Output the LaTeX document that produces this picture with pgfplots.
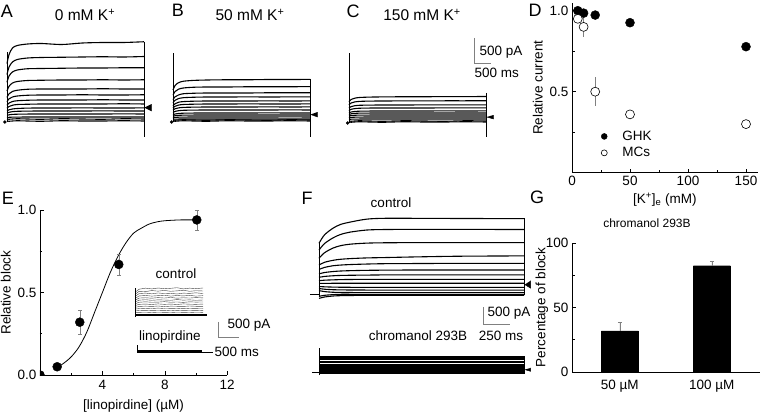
\documentclass[border=0pt]{standalone}
\usepackage{pgfplots}
\pgfplotsset{compat=1.18}
\usepackage{pgfplotstable}
\usepackage{fontspec}
\setmainfont{Liberation Sans}
\newcommand{\fsz}[1]{\fontsize{#1}{#1}\selectfont}

\pgfplotsset{
  trace/.style={hide axis, clip=false, anchor=south west},
  tr/.style={black, line width=1.1pt, no marks, smooth},
  sci/.style={anchor=south west, axis x line*=bottom, axis y line*=left,
    tick align=inside, axis line style={line width=0.6pt},
    every tick/.style={black, line width=0.6pt},
    major tick length=4pt, minor tick length=2.5pt,
    tick label style={font=\fsz{13.5}}, label style={font=\fsz{13.5}},
    /pgf/number format/assume math mode=true},
  ebar/.style={draw=none, no marks, forget plot,
    /pgfplots/error bars/y dir=both, /pgfplots/error bars/y explicit,
    /pgfplots/error bars/error bar style={draw=gray, line width=0.5pt},
    /pgfplots/error bars/error mark options={rotate=90, draw=gray, mark size=2pt}}
}

% panel A, 0 mM K+ (pA)
\pgfplotstableread{
t    c1   c2   c3   c4  c5  c6  c7  c8  c9  c10 c11 c12 c13 c14
0    1110 890  735  560 430 345 275 215 160 115 72  30  0   -40
30   1290 1040 860  655 505 405 320 250 185 135 84  34  -5  -45
80   1420 1140 940  720 550 440 350 275 200 147 92  37  0   -40
150  1470 1190 980  750 575 460 365 290 210 154 96  38  5   -35
300  1500 1220 1005 770 595 475 375 295 218 158 99  40  0   -40
500  1510 1230 1010 775 600 480 380 300 220 160 100 40  -5  -45
800  1490 1235 1015 780 600 480 380 300 220 160 100 40  5   -35
1100 1520 1240 1020 780 600 485 380 300 222 160 100 40  0   -40
1400 1530 1245 1020 785 605 480 385 300 220 162 100 40  -5  -40
1700 1530 1240 1025 780 600 480 380 305 220 160 102 40  5   -35
2000 1545 1250 1025 785 600 485 380 300 222 160 100 40  0   -40
}\tabA

% panel B, 50 mM K+
\pgfplotstableread{
t    c1  c2  c3  c4  c5  c6  c7  c8  c9  c10 c11 c12 c13 c14
0    600 495 405 345 285 240 195 150 105 75  45  15  0   -20
30   690 570 465 395 325 275 225 172 120 86  52  17  -5  -25
80   745 615 500 428 355 298 242 186 130 93  56  19  0   -20
150  775 640 525 446 368 310 252 194 136 97  58  20  5   -15
300  792 655 535 455 376 316 257 198 139 99  60  20  0   -20
500  800 660 540 460 380 320 260 200 140 100 60  20  -5  -25
800  805 660 540 460 380 320 260 200 140 100 60  20  5   -15
1100 805 665 540 462 380 322 260 200 140 100 60  20  0   -20
1400 810 665 545 460 382 320 262 200 142 100 60  20  -5  -20
1700 810 665 545 462 380 320 260 202 140 100 62  20  5   -15
2000 812 668 545 462 382 322 262 200 140 100 60  20  0   -20
}\tabB

% panel C, 150 mM K+
\pgfplotstableread{
t    c1  c2  c3  c4  c5  c6  c7  c8 c9 c10 c11
0    385 320 256 208 160 128 96  64 32 0   -20
30   430 360 288 234 180 144 108 72 36 -5  -25
80   455 380 304 247 190 152 114 76 38 0   -20
150  470 392 314 255 196 157 118 78 39 5   -15
300  478 398 318 259 199 159 119 80 40 0   -20
500  482 400 320 260 200 160 120 80 40 -5  -25
800  485 402 320 260 200 160 120 80 40 5   -15
1100 485 402 322 260 200 160 120 80 40 0   -20
1400 488 404 322 262 202 160 120 80 40 -5  -20
1700 488 404 322 262 200 160 120 80 40 5   -15
2000 490 405 322 262 202 160 120 80 40 0   -20
}\tabC

% panel E inset, control
\pgfplotstableread{
t    c1  c2  c3  c4  c5  c6  c7  c8  c9  c10 c11 c12
0    760 690 620 555 495 435 375 315 255 195 135 75
100  860 790 715 635 565 495 425 355 285 215 150 80
250  895 780 730 650 575 510 440 365 295 225 145 85
400  870 815 705 630 560 490 425 350 285 215 155 75
550  900 795 735 645 580 505 430 370 300 230 150 85
700  875 820 715 660 565 500 445 355 280 215 145 80
850  890 790 725 630 585 490 425 365 295 220 160 75
1000 910 805 700 650 560 515 435 350 290 225 145 85
1150 870 825 730 635 575 495 420 370 285 210 155 80
1300 895 790 720 655 565 505 440 360 300 225 150 75
1450 880 810 740 630 580 490 430 355 290 220 145 85
1620 900 800 715 645 570 500 435 365 285 215 155 80
}\tabE

% panel F, control
\pgfplotstableread{
t    c1   c2   c3   c4   c5  c6  c7  c8  c9  c10 c11 c12 c13 c14
0    1500 1300 1060 860  730 600 500 400 320 230 170 110 -60 -120
50   1745 1490 1220 940  790 640 525 415 322 220 150 80  -30 -80
130  1945 1660 1360 1000 840 670 545 425 324 212 135 60  -10 -50
200  2055 1760 1430 1030 860 685 555 432 325 208 130 55  0   -40
290  2125 1830 1475 1050 875 695 560 436 325 206 127 52  0   -35
440  2210 1890 1505 1070 890 705 565 440 325 205 125 50  0   -30
600  2235 1905 1515 1080 900 710 570 440 325 205 125 50  0   -30
900  2235 1910 1520 1100 905 715 570 440 325 205 125 50  0   -30
1300 2230 1910 1520 1120 910 715 570 440 325 205 125 50  0   -30
1900 2225 1905 1520 1130 910 715 570 440 325 205 125 50  0   -30
}\tabF

% panel F, chromanol 293B
\pgfplotstableread{
t    c1  c2  c3  c4  c5  c6  c7  c8  c9  c10 c11 c12 c13 c14 c15
0    480 450 420 380 340 290 250 200 160 120 90  60  30  0   -30
1900 480 450 420 380 340 290 250 200 160 120 90  60  30  0   -30
}\tabFb

\begin{document}
\begin{tikzpicture}
\useasboundingbox (0,0) rectangle (760pt,-412pt);

% ---------- A ----------
\begin{axis}[trace, at={(0.15pt,-144pt)}, x=0.0685pt, y=0.05pt,
  xmin=-100, xmax=2200, ymin=-500, ymax=1600]
\pgfplotsinvokeforeach{1,...,14}{\addplot[tr] table[x=t, y=c#1]{\tabA};}
\addplot[black, line width=0.6pt] coordinates {(0,-60) (0,1340)};
\addplot[black, line width=0.6pt] coordinates {(2000,1540) (2000,-360)};
\addplot[black, fill=black] coordinates {(2010,230) (2110,160) (2110,300)};
\addplot[only marks, mark=*, mark size=1.5pt, black] coordinates {(-30,-60)};
\end{axis}

% ---------- B ----------
\begin{axis}[trace, at={(166.15pt,-145pt)}, x=0.0685pt, y=0.05pt,
  xmin=-100, xmax=2200, ymin=-500, ymax=1600]
\pgfplotsinvokeforeach{1,...,14}{\addplot[tr] table[x=t, y=c#1]{\tabB};}
\addplot[black, line width=0.6pt] coordinates {(0,-40) (0,1340)};
\addplot[black, line width=0.6pt] coordinates {(2000,820) (2000,-340)};
\addplot[black, fill=black] coordinates {(2010,110) (2110,60) (2110,160)};
\addplot[only marks, mark=*, mark size=1.5pt, black] coordinates {(-20,-40)};
\end{axis}

% ---------- C ----------
\begin{axis}[trace, at={(342.15pt,-146pt)}, x=0.0685pt, y=0.05pt,
  xmin=-100, xmax=2200, ymin=-500, ymax=1800]
\pgfplotsinvokeforeach{1,...,11}{\addplot[tr] table[x=t, y=c#1]{\tabC};}
\addplot[black, line width=0.6pt] coordinates {(0,-40) (0,1360)};
\addplot[black, line width=0.6pt] coordinates {(2000,560) (2000,-320)};
\addplot[black, fill=black] coordinates {(2010,80) (2110,40) (2110,120)};
\addplot[only marks, mark=*, mark size=1.5pt, black] coordinates {(-20,-40)};
% scale bar
\addplot[gray, line width=0.6pt] coordinates {(1825,1660) (1825,1160) (2073,1160)};
\end{axis}

% ---------- D ----------
\begin{axis}[sci, at={(572pt,-172.7pt)}, x=1.16pt, y=162pt,
  xmin=0, xmax=160, ymin=0, ymax=1.05,
  xtick={0,50,100,150}, minor xtick={25,75,125},
  ytick={0.5,1.0}, minor ytick={0.25,0.75},
  yticklabel style={/pgf/number format/.cd, fixed, fixed zerofill, precision=1},
  xlabel={[K\textsuperscript{+}]\textsubscript{e} (mM)}, ylabel={Relative current},
  legend style={draw=none, fill=none, at={(0.107,0.27)}, anchor=north west,
    font=\fsz{13.5}, row sep=1.5pt},
  legend cell align=left,
  legend image code/.code={
    \draw[#1, mark size=3pt] plot coordinates {(9pt,0pt)};
    \path (0pt,0pt) (25pt,0pt);}]
\addplot[ebar, /pgfplots/error bars/error mark=none] coordinates {
  (5,0.95) +- (0,0.02) (10,0.90) +- (0,0.06) (20,0.50) +- (0,0.09)
  (50,0.36) +- (0,0.01) (150,0.30) +- (0,0.01)};
\addplot[only marks, mark=*, mark size=4.5pt, black] coordinates {
  (5,1.0) (10,0.985) (20,0.973) (50,0.926) (150,0.778)};
\addlegendentry{GHK}
\addplot[only marks, mark=*, mark size=4.5pt, black,
  mark options={fill=white, line width=0.6pt}] coordinates {
  (5,0.95) (10,0.90) (20,0.50) (50,0.36) (150,0.30)};
\addlegendentry{MCs}
\end{axis}

% ---------- E ----------
\begin{axis}[sci, at={(40pt,-375pt)}, x=15.6pt, y=165pt,
  xmin=0, xmax=12, ymin=0, ymax=1,
  xtick={4,8,12}, minor xtick={2,6,10},
  ytick={0,0.5,1}, minor ytick={0.25,0.75},
  yticklabel style={/pgf/number format/.cd, fixed, fixed zerofill, precision=1},
  xticklabel style={yshift=-2pt},
  xlabel={[linopirdine] (µM)}, ylabel={Relative block},
  xlabel style={yshift=-3pt},
  clip marker paths=true]
\addplot[black, line width=0.8pt, smooth] coordinates {
  (1,0.04) (1.5,0.07) (2,0.11) (2.5,0.17) (3,0.26) (3.5,0.38) (4,0.50)
  (4.5,0.62) (5,0.72) (5.5,0.80) (6,0.86) (6.5,0.89) (7,0.915) (7.5,0.928)
  (8,0.935) (9,0.94) (10,0.94)};
\addplot[ebar] coordinates {
  (2.55,0.32) +- (0,0.075) (5.05,0.67) +- (0,0.065) (10.05,0.94) +- (0,0.06)};
\addplot[only marks, mark=*, mark size=4.5pt, black] coordinates {
  (0,0) (1.1,0.05) (2.55,0.32) (5.05,0.67) (10.05,0.94)};
\end{axis}

% E inset
\begin{axis}[trace, at={(126.6pt,-360pt)}, x=0.042pt, y=0.03pt,
  xmin=-200, xmax=2600, ymin=-1500, ymax=1000]
\pgfplotsinvokeforeach{1,...,12}{\addplot[black!75, line width=0.4pt, no marks] table[x=t, y=c#1]{\tabE};}
\addplot[black, line width=0.6pt] coordinates {(0,-70) (0,900)};
\addplot[black, line width=1.6pt] coordinates {(0,0) (1714,0)};
\addplot[black, line width=3pt] coordinates {(50,-1200) (1595,-1200)};
\addplot[black, line width=0.5pt] coordinates {(50,-1000) (50,-1267)};
\addplot[black, line width=0.6pt] coordinates {(1595,-1233) (1857,-1233)};
% scale bar
\addplot[gray, line width=0.6pt] coordinates {(1976,-233) (1976,-733) (2476,-733)};
\end{axis}

% ---------- F ----------
\begin{axis}[trace, at={(297.4pt,-328.3pt)}, x=0.108pt, y=0.034pt,
  xmin=-200, xmax=2200, ymin=-1000, ymax=2400]
\pgfplotsinvokeforeach{1,...,14}{\addplot[tr] table[x=t, y=c#1]{\tabF};}
\addplot[black, line width=0.6pt] coordinates {(0,-90) (0,1500)};
\addplot[black, line width=0.8pt] coordinates {(-85,0) (0,0)};
\addplot[black, line width=0.6pt] coordinates {(1905,2235) (1905,-30)};
\addplot[black, fill=black] coordinates {(1905,285) (1960,180) (1960,400)};
% scale bar
\addplot[gray, line width=0.6pt] coordinates {(1519,-374) (1519,-874) (1769,-874)};
\end{axis}

\begin{axis}[trace, at={(297.4pt,-406.7pt)}, x=0.108pt, y=0.034pt,
  xmin=-200, xmax=2200, ymin=-1000, ymax=800]
\pgfplotsinvokeforeach{1,...,15}{\addplot[black, line width=1.2pt, no marks] table[x=t, y=c#1]{\tabFb};}
\addplot[black, line width=0.6pt] coordinates {(0,-70) (0,725)};
\addplot[black, line width=0.8pt] coordinates {(-65,0) (0,0)};
\addplot[black, line width=0.6pt] coordinates {(1905,490) (1905,-40)};
\addplot[black, fill=black] coordinates {(1905,90) (1960,40) (1960,140)};
\end{axis}

% ---------- G ----------
\begin{axis}[sci, at={(572pt,-372pt)}, x=92pt, y=1.29pt,
  xmin=-0.52, xmax=1.52, ymin=0, ymax=100,
  xtick={0,1}, xticklabels={50 µM, 100 µM}, major x tick style={draw=none},
  xticklabel style={yshift=-5pt},
  ytick={0,50,100}, minor ytick={25,75},
  ylabel={Percentage of block},
  ylabel style={at={(axis description cs:-0.16,0.5)}, anchor=center}]
\addplot[ybar, bar width=37pt, fill=black, draw=black,
  /pgfplots/error bars/y dir=plus, /pgfplots/error bars/y explicit,
  /pgfplots/error bars/error bar style={gray, line width=0.5pt},
  /pgfplots/error bars/error mark options={rotate=90, gray, mark size=2pt}]
  coordinates {(0,31.8) +- (0,7) (1,82.4) +- (0,3.6)};
\end{axis}

% ---------- texts ----------
\node[font=\fsz{18}] at (7pt,-11pt) {A};
\node[font=\fsz{18}] at (178pt,-10pt) {B};
\node[font=\fsz{18}] at (353pt,-11pt) {C};
\node[font=\fsz{18}] at (535pt,-10pt) {D};
\node[font=\fsz{18}] at (8pt,-198pt) {E};
\node[font=\fsz{18}] at (307pt,-198pt) {F};
\node[font=\fsz{18}] at (537pt,-197pt) {G};

\node[font=\fsz{15.5}] at (85pt,-15pt) {0 mM K\textsuperscript{+}};
\node[font=\fsz{15.5}] at (250pt,-15pt) {50 mM K\textsuperscript{+}};
\node[font=\fsz{15.5}] at (422pt,-15pt) {150 mM K\textsuperscript{+}};
\node[font=\fsz{13.5}, anchor=west] at (476pt,-52pt) {500 pA};
\node[font=\fsz{13.5}, anchor=west] at (471pt,-73pt) {500 ms};

\node[font=\fsz{13.5}] at (176pt,-274pt) {control};
\node[font=\fsz{13.5}] at (170pt,-337pt) {linopirdine};
\node[font=\fsz{13.5}, anchor=west] at (224pt,-325pt) {500 pA};
\node[font=\fsz{13.5}, anchor=west] at (211pt,-352pt) {500 ms};

\node[font=\fsz{13.5}] at (391pt,-203pt) {control};
\node[font=\fsz{13.5}] at (418pt,-336pt) {chromanol 293B};
\node[font=\fsz{13.5}, anchor=west] at (484pt,-313pt) {500 pA};
\node[font=\fsz{13.5}] at (501pt,-336pt) {250 ms};

\node[font=\fsz{12}] at (647pt,-223pt) {chromanol 293B};
\end{tikzpicture}
\end{document}
